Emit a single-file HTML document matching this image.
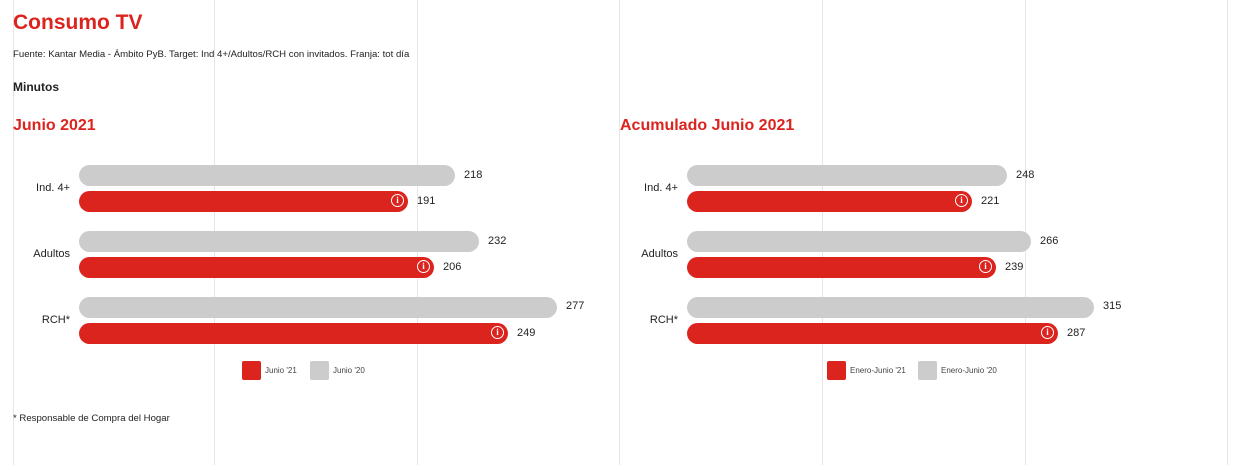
<!DOCTYPE html>
<html><head><meta charset="utf-8"><style>
body{margin:0;width:1248px;height:465px;background:#fff;font-family:"Liberation Sans",Arial,sans-serif;position:relative;overflow:hidden}
.g{position:absolute;top:0;height:465px;width:1px;background:#e6e6e6}
.a{position:absolute;white-space:nowrap}
.bar{position:absolute;height:21px;border-radius:11px}
.gr{background:#cccccc}.rd{background:#dc241f}
.v{position:absolute;font-size:11px;color:#222;line-height:13px}
.c{position:absolute;font-size:11px;color:#222;text-align:right;width:60px;line-height:13px}
.i{position:absolute;width:11px;height:11px;border:1.5px solid #fff;border-radius:50%;color:#fff;font:bold 9px/11px "Liberation Serif",serif;text-align:center;box-sizing:content-box}
.sq{position:absolute;width:19px;height:19px;border-radius:2px}
.lt{position:absolute;font-size:8px;color:#444;line-height:10px}
</style></head><body>
<div class="g" style="left:13px"></div><div class="g" style="left:214px"></div><div class="g" style="left:417px"></div><div class="g" style="left:619px"></div><div class="g" style="left:822px"></div><div class="g" style="left:1025px"></div><div class="g" style="left:1227px"></div>
<div class="a" style="left:13px;top:11px;font-size:21px;font-weight:bold;color:#dc241f">Consumo TV</div>
<div class="a" style="left:13px;top:49px;font-size:9.6px;color:#222">Fuente: Kantar Media - Ámbito PyB. Target: Ind 4+/Adultos/RCH con invitados. Franja: tot día</div>
<div class="a" style="left:13px;top:80px;font-size:12px;font-weight:bold;color:#222">Minutos</div>
<div class="a" style="left:13px;top:117px;font-size:16px;font-weight:bold;color:#dc241f">Junio 2021</div>
<div class="a" style="left:620px;top:117px;font-size:16px;font-weight:bold;color:#dc241f">Acumulado Junio 2021</div>
<div class="a" style="left:13px;top:413px;font-size:9.6px;color:#222">* Responsable de Compra del Hogar</div>

<div class="c" style="left:10px;top:182px">Ind. 4+</div>
<div class="c" style="left:10px;top:248px">Adultos</div>
<div class="c" style="left:10px;top:314px">RCH*</div>
<div class="bar gr" style="left:79px;top:165px;width:376px"></div><div class="v" style="left:464px;top:169px">218</div>
<div class="bar rd" style="left:79px;top:191px;width:329px"></div><div class="i" style="left:391px;top:194px">i</div><div class="v" style="left:417px;top:195px">191</div>
<div class="bar gr" style="left:79px;top:231px;width:400px"></div><div class="v" style="left:488px;top:235px">232</div>
<div class="bar rd" style="left:79px;top:257px;width:355px"></div><div class="i" style="left:417px;top:260px">i</div><div class="v" style="left:443px;top:261px">206</div>
<div class="bar gr" style="left:79px;top:297px;width:478px"></div><div class="v" style="left:566px;top:300px">277</div>
<div class="bar rd" style="left:79px;top:323px;width:429px"></div><div class="i" style="left:491px;top:326px">i</div><div class="v" style="left:517px;top:327px">249</div>
<div class="sq rd" style="left:242px;top:361px"></div><div class="lt" style="left:265px;top:366px">Junio '21</div>
<div class="sq gr" style="left:310px;top:361px"></div><div class="lt" style="left:333px;top:366px">Junio '20</div>

<div class="c" style="left:618px;top:182px">Ind. 4+</div>
<div class="c" style="left:618px;top:248px">Adultos</div>
<div class="c" style="left:618px;top:314px">RCH*</div>
<div class="bar gr" style="left:687px;top:165px;width:320px"></div><div class="v" style="left:1016px;top:169px">248</div>
<div class="bar rd" style="left:687px;top:191px;width:285px"></div><div class="i" style="left:955px;top:194px">i</div><div class="v" style="left:981px;top:195px">221</div>
<div class="bar gr" style="left:687px;top:231px;width:344px"></div><div class="v" style="left:1040px;top:235px">266</div>
<div class="bar rd" style="left:687px;top:257px;width:309px"></div><div class="i" style="left:979px;top:260px">i</div><div class="v" style="left:1005px;top:261px">239</div>
<div class="bar gr" style="left:687px;top:297px;width:407px"></div><div class="v" style="left:1103px;top:300px">315</div>
<div class="bar rd" style="left:687px;top:323px;width:371px"></div><div class="i" style="left:1041px;top:326px">i</div><div class="v" style="left:1067px;top:327px">287</div>
<div class="sq rd" style="left:827px;top:361px"></div><div class="lt" style="left:850px;top:366px">Enero-Junio '21</div>
<div class="sq gr" style="left:918px;top:361px"></div><div class="lt" style="left:941px;top:366px">Enero-Junio '20</div>
</body></html>
